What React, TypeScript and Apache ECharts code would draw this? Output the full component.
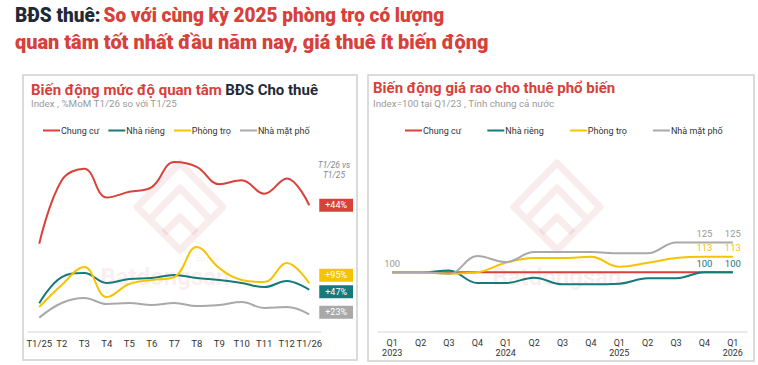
import React, { useEffect, useRef } from 'react';
import * as echarts from 'echarts';

const seriesNames = ['Chung cư', 'Nhà riêng', 'Phòng trọ', 'Nhà mặt phố'];
const seriesColors = ['#d9413a', '#16797a', '#f5c400', '#a9a9a9'];

// Left chart: interest index by month
const monthLabels = ['T1/25', 'T2', 'T3', 'T4', 'T5', 'T6', 'T7', 'T8', 'T9', 'T10', 'T11', 'T12', 'T1/26'];
const interestChungCu = [46, 79, 85, 70, 73, 75.5, 88.5, 86, 77, 79, 72, 80, 66];
const interestNhaRieng = [15, 28.6, 30.7, 25.5, 27.6, 28.1, 29.7, 28.1, 27.1, 25.5, 23.4, 26.6, 22];
const interestPhongTro = [13, 24.5, 33.9, 18.2, 25, 27.1, 28.6, 44.3, 33.3, 27.1, 26, 35.9, 25.4];
const interestMatPho = [7.5, 15.1, 17.7, 14.6, 15.1, 14.1, 15.1, 13.5, 14.1, 15.6, 12.5, 13, 9.2];
const yoyBadges = ['+44%', '+47%', '+95%', '+23%'];

// Right chart: price index by quarter (Q1/23 = 100)
const quarterLabels = ['Q1\n2023', 'Q2', 'Q3', 'Q4', 'Q1\n2024', 'Q2', 'Q3', 'Q4', 'Q1\n2025', 'Q2', 'Q3', 'Q4', 'Q1\n2026'];
const priceChungCu = [100, 100, 100, 100, 100, 100, 100, 100, 100, 100, 100, 100, 100];
const priceNhaRieng = [100, 100, 101.5, 91, 91, 95.5, 90, 90, 90.5, 95, 95, 100, 100];
const pricePhongTro = [100, 100, 98.8, 100, 108, 112, 112, 113, 104.7, 108, 112, 113, 113];
const priceMatPho = [100, 100, 98.8, 113.6, 108.6, 117, 117, 117, 116, 116, 125, 125, 125];
const priceLabelIdx = [[], [11, 12], [11, 12], [0, 11, 12]];

const FONT = 'Roboto, "Noto Sans", sans-serif';

function buildOption() {
  const interest = [interestChungCu, interestNhaRieng, interestPhongTro, interestMatPho];
  const price = [priceChungCu, priceNhaRieng, pricePhongTro, priceMatPho];
  const badgeOffsets = [[0, 0], [0, 2], [0, -8], [0, -2]];

  const leftSeries = interest.map((d, i) => ({
    name: seriesNames[i],
    type: 'line',
    xAxisIndex: 0,
    yAxisIndex: 0,
    data: d,
    smooth: 0.4,
    showSymbol: false,
    symbol: 'none',
    color: seriesColors[i],
    lineStyle: { width: 2, color: seriesColors[i] },
    endLabel: {
      show: true,
      formatter: yoyBadges[i],
      distance: 10,
      offset: badgeOffsets[i],
      color: '#fff',
      fontSize: 9,
      fontFamily: FONT,
      backgroundColor: seriesColors[i],
      padding: [2, 6, 2, 6],
    },
  }));

  const rightSeries = price.map((d, i) => ({
    name: seriesNames[i],
    type: 'line',
    xAxisIndex: 1,
    yAxisIndex: 1,
    data: d.map((v, j) =>
      priceLabelIdx[i].includes(j)
        ? { value: v, label: { show: true, position: 'top', distance: 4, formatter: String(Math.round(v)), color: i === 3 ? '#999' : seriesColors[i], fontSize: 9.5, fontFamily: FONT } }
        : v
    ),
    smooth: 0.4,
    showSymbol: true,
    showAllSymbol: true,
    symbol: 'circle',
    symbolSize: 0,
    color: seriesColors[i],
    itemStyle: { color: seriesColors[i] },
    lineStyle: { width: 2, color: seriesColors[i] },
  }));

  const wm = 'rgba(214,120,120,0.14)';
  const logo = (cx: number, cy: number) => ({
    type: 'group',
    silent: true,
    children: [
      { type: 'polygon', shape: { points: [[cx, cy - 42], [cx + 43, cy + 2], [cx, cy + 45], [cx - 43, cy + 2]] }, style: { fill: 'none', stroke: wm, lineWidth: 7, lineJoin: 'round' } },
      { type: 'polyline', shape: { points: [[cx - 28, cy + 12], [cx, cy - 17], [cx + 28, cy + 12]] }, style: { fill: 'none', stroke: wm, lineWidth: 7, lineJoin: 'round' } },
      { type: 'polyline', shape: { points: [[cx - 16, cy + 28], [cx, cy + 12], [cx + 16, cy + 28]] }, style: { fill: 'none', stroke: wm, lineWidth: 7, lineJoin: 'round' } },
    ],
  });
  const wmText = (cx: number, cy: number) => ({
    type: 'group',
    silent: true,
    children: [
      { type: 'text', x: cx, y: cy, style: { text: 'Batdongsan', fill: 'rgba(225,150,150,0.17)', font: `bold 24px ${FONT}`, textAlign: 'center', textVerticalAlign: 'middle' } },
      { type: 'text', x: cx + 42, y: cy - 18, style: { text: '.com.vn', fill: 'rgba(225,150,150,0.2)', font: `7px ${FONT}`, textAlign: 'center', textVerticalAlign: 'middle' } },
    ],
  });

  const graphic: any[] = [
    // main title
    {
      type: 'text', x: 15, y: 15, scaleX: 0.905,
      style: {
        text: '{d|BĐS thuê:} {r|So với cùng kỳ 2025 phòng trọ có lượng}',
        textVerticalAlign: 'middle',
        rich: {
          d: { fill: '#1f2a38', font: `900 21px ${FONT}` },
          r: { fill: '#d8403a', font: `900 21px ${FONT}` },
        },
      },
    },
    {
      type: 'text', x: 15, y: 42, scaleX: 0.95,
      style: { text: 'quan tâm tốt nhất đầu năm nay, giá thuê ít biến động', fill: '#d8403a', font: `900 21px ${FONT}`, textVerticalAlign: 'middle' },
    },
    // panels
    { type: 'rect', shape: { x: 23, y: 75, width: 334, height: 285 }, style: { fill: 'none', stroke: '#cfcfcf', lineWidth: 1.5 }, z: -1 },
    { type: 'rect', shape: { x: 368, y: 75, width: 386, height: 286 }, style: { fill: 'none', stroke: '#cfcfcf', lineWidth: 1.5 }, z: -1 },
    // watermarks
    logo(180, 205),
    wmText(165, 277),
    logo(557, 205),
    wmText(557, 277),
    // panel titles
    {
      type: 'text', x: 31, y: 90,
      style: {
        text: '{r|Biến động mức độ quan tâm} {d|BĐS Cho thuê}',
        textVerticalAlign: 'middle',
        rich: {
          r: { fill: '#d8403a', font: `bold 15px ${FONT}` },
          d: { fill: '#1f2a38', font: `bold 15px ${FONT}` },
        },
      },
    },
    { type: 'text', x: 31, y: 103, style: { text: 'Index , %MoM T1/26 so với T1/25', fill: '#9a9a9a', font: `9.8px ${FONT}`, textVerticalAlign: 'middle' } },
    { type: 'text', x: 373, y: 88, style: { text: 'Biến động giá rao cho thuê phổ biến', fill: '#d8403a', font: `bold 15px ${FONT}`, textVerticalAlign: 'middle' } },
    { type: 'text', x: 373, y: 103, style: { text: 'Index=100 tại Q1/23 , Tính chung cả nước', fill: '#9a9a9a', font: `9.8px ${FONT}`, textVerticalAlign: 'middle' } },
    // badge header
    { type: 'text', x: 334, y: 170, style: { text: 'T1/26 vs\nT1/25', fill: '#8a8a8a', font: `italic 8.5px ${FONT}`, textAlign: 'center', textVerticalAlign: 'middle', lineHeight: 10 } },
  ];

  const legendBase = {
    top: 121,
    icon: 'rect',
    itemWidth: 17,
    itemHeight: 2,
    itemGap: 9,
    textStyle: { color: '#333', fontSize: 9, fontFamily: FONT, padding: [0, 0, 0, -4] },
    data: seriesNames,
  };

  return {
    animation: false,
    backgroundColor: '#fff',
    textStyle: { fontFamily: FONT },
    graphic,
    legend: [
      { ...legendBase, left: 38 },
      { ...legendBase, left: 400, itemGap: 26 },
    ],
    grid: [
      { left: 28, right: 437.5, top: 140, bottom: 33 },
      { left: 378, right: 11, top: 153, bottom: 33 },
    ],
    xAxis: [
      {
        gridIndex: 0, type: 'category', data: monthLabels, boundaryGap: true,
        axisLine: { lineStyle: { color: '#e3e3e3', width: 1.5 } },
        axisTick: { show: false },
        axisLabel: { color: '#333', fontSize: 9.5, margin: 6, interval: 0, fontFamily: FONT },
      },
      {
        gridIndex: 1, type: 'category', data: quarterLabels, boundaryGap: true,
        axisLine: { lineStyle: { color: '#e3e3e3', width: 1.5 } },
        axisTick: { show: false },
        axisLabel: { color: '#333', fontSize: 9, margin: 6, interval: 0, lineHeight: 10, fontFamily: FONT },
      },
    ],
    yAxis: [
      { gridIndex: 0, type: 'value', min: 0, max: 100, show: false, splitLine: { show: false } },
      { gridIndex: 1, type: 'value', min: 50, max: 200, show: false, splitLine: { show: false } },
    ],
    series: [...leftSeries, ...rightSeries],
  };
}

export default function App() {
  const ref = useRef<HTMLDivElement>(null);
  useEffect(() => {
    const chart = echarts.init(ref.current as HTMLDivElement, null, { renderer: 'svg' });
    chart.setOption(buildOption() as any);
    return () => chart.dispose();
  }, []);
  return (
    <div
      ref={ref}
      style={{ position: 'fixed', left: 0, top: 0, width: 758, height: 365, background: '#fff' }}
    />
  );
}
